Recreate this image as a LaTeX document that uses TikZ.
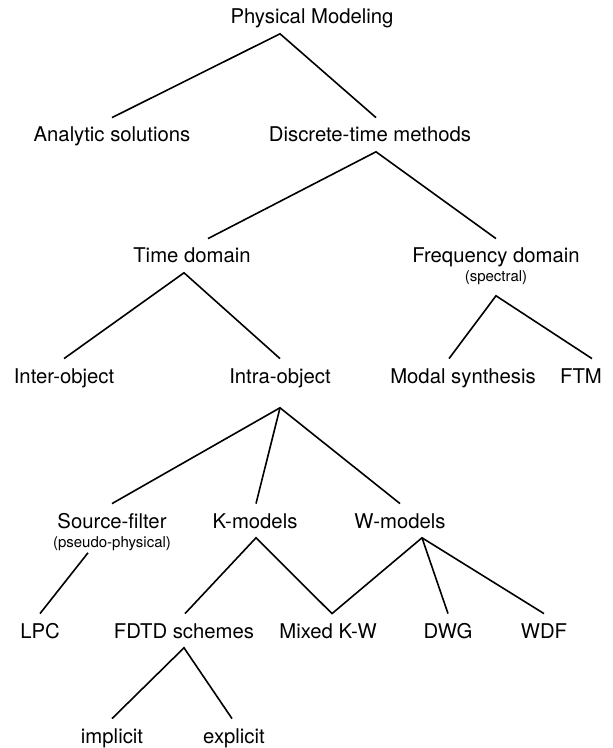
\documentclass[tikz,border=0pt]{standalone}
\usepackage{fontspec}
\setmainfont{TeX Gyre Heros}
\tikzset{
  lab/.style={font=\fontsize{10.15}{12}\selectfont,anchor=base,inner xsep=0pt,inner ysep=4.5pt,text height=7.3pt,text depth=0pt},
  sub/.style={font=\fontsize{7.5}{9}\selectfont,anchor=base,inner xsep=0pt,inner ysep=2.5pt,text height=5.4pt,text depth=0pt},
  br/.style={line width=0.8pt,line join=miter}
}
\begin{document}
\begin{tikzpicture}[x=0.5pt,y=-0.5pt,br]
\useasboundingbox (0,0) rectangle (613,748);
% levels
\node[lab](pm) at (312,24){Physical Modeling};
\node[lab](an) at (112,142){Analytic solutions}; \node[lab](dtm) at (370,142){Discrete-time methods};
\node[lab](td) at (192,263){Time domain}; \node[lab](fd) at (496,263){Frequency domain};
\node[sub](fds) at (496,282){(spectral)};
\node[lab](inter) at (64,383){Inter-object}; \node[lab](intra) at (280,383){Intra-object};
\node[lab](modal) at (463,383){Modal synthesis}; \node[lab](ftm) at (581,383){FTM};
\node[lab](sf) at (112,528){Source-filter}; \node[sub](ps) at (112,547){(pseudo-physical)};
\node[lab](km) at (255,528){K-models}; \node[lab](wm) at (400,528){W-models};
\node[lab](lpc) at (40,638){LPC}; \node[lab](fdtd) at (184,638){FDTD schemes};
\node[lab](mix) at (328,638){Mixed K-W}; \node[lab](dwg) at (448,638){DWG}; \node[lab](wdf) at (544,638){WDF};
\node[lab](impl) at (112,743){implicit}; \node[lab](expl) at (234,743){explicit};
% branches
\draw (an.north) -- ([xshift=-16pt]pm.south) -- ([xshift=3pt]dtm.north);
\draw ([xshift=8pt]td.north) -- ([xshift=3pt]dtm.south) -- (fd.north);
\draw (inter.north) -- ([xshift=-4pt]td.south) -- (intra.north);
\draw ([xshift=-7pt]modal.north) -- ([yshift=-4pt]fds.south) -- ([xshift=5.5pt]ftm.north);
\draw (sf.north) -- ([yshift=-7.5pt]intra.south) -- (wm.north);
\draw ([yshift=-7.5pt]intra.south) -- ([xshift=0.5pt]km.north);
\draw ([xshift=-12pt]ps.south) -- (lpc.north);
\draw ([xshift=0.5pt]fdtd.north) -- ([xshift=0.5pt]km.south) -- ([xshift=2pt]mix.north) -- ([xshift=11pt]wm.south) -- (wdf.north);
\draw ([xshift=11pt]wm.south) -- (dwg.north);
\draw (impl.north) -- (fdtd.south) -- ([xshift=-1pt]expl.north);
\end{tikzpicture}
\end{document}
